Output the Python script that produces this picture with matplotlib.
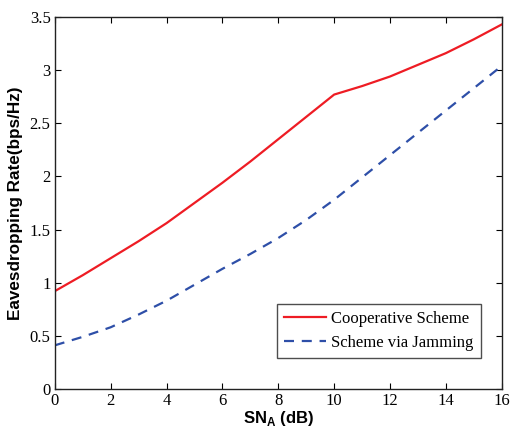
import matplotlib
matplotlib.use("Agg")
import matplotlib.pyplot as plt

snr = [0, 1, 2, 3, 4, 5, 6, 7, 8, 9, 10, 11, 12, 13, 14, 15, 16]
coop = [0.92, 1.07, 1.23, 1.39, 1.56, 1.75, 1.94, 2.14, 2.35, 2.56, 2.77,
        2.85, 2.94, 3.05, 3.16, 3.29, 3.43]
jam = [0.41, 0.49, 0.58, 0.70, 0.83, 0.98, 1.13, 1.27, 1.42, 1.59, 1.78,
       1.99, 2.20, 2.41, 2.62, 2.83, 3.04]
xticks = [0, 2, 4, 6, 8, 10, 12, 14, 16]
yticks = [0, 0.5, 1, 1.5, 2, 2.5, 3, 3.5]
ytick_labels = ["0", "0.5", "1", "1.5", "2", "2.5", "3", "3.5"]

plt.rcParams['mathtext.fontset'] = 'custom'
plt.rcParams['mathtext.rm'] = 'Liberation Sans:bold'
plt.rcParams['mathtext.bf'] = 'Liberation Sans:bold'

fig = plt.figure(figsize=(5.12, 4.36), dpi=100)
ax = fig.add_axes([0.107, 0.108, 0.873, 0.853])

ax.plot(snr, coop, color='#ee1c24', lw=1.6, label='Cooperative Scheme')
ax.plot(snr, jam, color='#2e4fa8', lw=1.6, ls=(0, (4.5, 3.5)), label='Scheme via Jamming')

ax.set_xlim(0, 16)
ax.set_ylim(0, 3.5)
ax.set_xticks(xticks)
ax.set_xticklabels([str(t) for t in xticks])
ax.set_yticks(yticks)
ax.set_yticklabels(ytick_labels)
ax.tick_params(direction='in', top=True, right=True, length=4.5, width=0.8,
               labelsize=12, pad=3)
for lab in ax.get_xticklabels() + ax.get_yticklabels():
    lab.set_fontfamily('Liberation Serif')
for s in ax.spines.values():
    s.set_linewidth(1.0)
    s.set_color('#222222')

ax.set_xlabel(r'SN$_\mathrm{A}$ (dB)', fontfamily='Liberation Sans',
              fontweight='bold', fontsize=12, labelpad=0)
ax.set_ylabel('Eavesdropping Rate(bps/Hz)', fontfamily='Liberation Sans',
              fontweight='bold', fontsize=12.3, labelpad=5)

leg = ax.legend(loc='lower right', bbox_to_anchor=(0.972, 0.060),
                prop={'family': 'Liberation Serif', 'size': 12},
                frameon=True, fancybox=False, edgecolor='#222222',
                handlelength=2.5, handletextpad=0.3, borderpad=0.45,
                labelspacing=0.45)
leg.get_frame().set_linewidth(1.0)

fig.savefig('out.png', dpi=100)
